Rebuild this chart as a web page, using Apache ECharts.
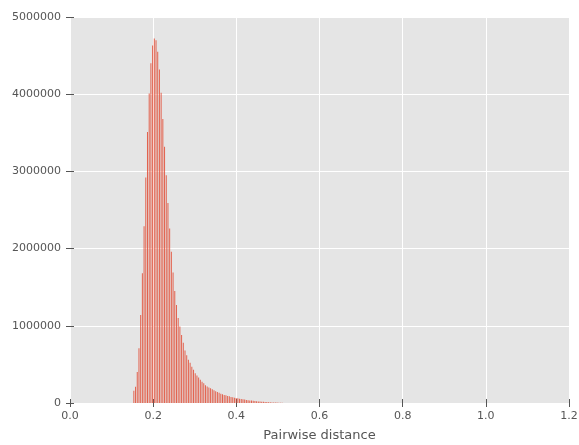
<!DOCTYPE html>
<html>
<head>
<meta charset="utf-8">
<script src="https://cdn.jsdelivr.net/npm/echarts@6/dist/echarts.min.js"></script>
<style>
  html, body { margin: 0; padding: 0; background: #fff; }
  #chart { width: 579px; height: 445px; }
</style>
</head>
<body>
<div id="chart"></div>
<script>
// Histogram of pairwise distances (uniform bins)
const binStart = 0.1515;   // left edge of first non-empty bin
const binWidth = 0.0041;

// Counts per bin, in order
const counts = [
  160000, 210000, 400000, 710000, 1140000, 1680000, 2290000, 2920000,
  3510000, 4010000, 4400000, 4630000, 4720000, 4700000, 4550000, 4320000,
  4020000, 3680000, 3320000, 2950000, 2590000, 2260000, 1960000, 1690000,
  1450000, 1270000, 1100000, 990000, 880000, 780000, 680000, 620000,
  560000, 520000, 470000, 430000, 385000, 355000, 330000, 300000,
  275000, 255000, 230000, 215000, 200000, 190000, 177000, 164000,
  151000, 142000, 133000, 120000, 112000, 103000, 99000, 90000,
  86000, 78000, 74000, 69000, 65000, 60000, 56000, 52000,
  48000, 44000, 40000, 37000, 34000, 31000, 28000, 26000,
  23000, 21000, 19000, 17000, 15000, 13000, 12000, 10000,
  9000, 8000, 7000, 6000, 5000, 4000, 3000, 2000
];

const xTicks = [0.0, 0.2, 0.4, 0.6, 0.8, 1.0, 1.2];
const yTicks = [0, 1000000, 2000000, 3000000, 4000000, 5000000];
const xLabel = 'Pairwise distance';

const barData = counts.map((c, i) => [binStart + binWidth * (i + 0.5), c]);

const font = 'DejaVu Sans';
const tickColor = '#555555';

const chart = echarts.init(document.getElementById('chart'), null, { renderer: 'canvas' });

const xBase = {
  type: 'value',
  min: xTicks[0],
  max: xTicks[xTicks.length - 1],
  interval: 0.2,
  axisLine: { show: false },
  axisTick: { show: true, inside: false, length: 4, lineStyle: { color: tickColor, width: 1 } }
};
const yBase = {
  type: 'value',
  min: yTicks[0],
  max: yTicks[yTicks.length - 1],
  interval: 1000000,
  axisLine: { show: false },
  axisTick: { show: true, inside: false, length: 4, lineStyle: { color: tickColor, width: 1 } }
};

chart.setOption({
  animation: false,
  backgroundColor: '#ffffff',
  grid: {
    left: 70, right: 10, top: 17, bottom: 42,
    outerBoundsMode: 'none',
    containLabel: false,
    show: true, backgroundColor: '#E5E5E5', borderWidth: 0
  },
  xAxis: [
    Object.assign({}, xBase, {
      position: 'bottom',
      name: xLabel,
      nameLocation: 'middle',
      nameGap: 26,
      nameTextStyle: { fontFamily: font, fontSize: 13, color: '#555555' },
      axisLabel: {
        margin: 8, fontFamily: font, fontSize: 11, color: '#555555',
        formatter: v => v.toFixed(1)
      },
      splitLine: { show: true, lineStyle: { color: '#ffffff', width: 1 } }
    }),
    Object.assign({}, xBase, {
      position: 'top',
      axisLabel: { show: false },
      splitLine: { show: false }
    })
  ],
  yAxis: [
    Object.assign({}, yBase, {
      position: 'left',
      axisLabel: {
        margin: 9, fontFamily: font, fontSize: 11, color: '#555555',
        formatter: v => String(v)
      },
      splitLine: { show: true, lineStyle: { color: '#ffffff', width: 1 } }
    }),
    Object.assign({}, yBase, {
      position: 'right',
      axisLabel: { show: false },
      splitLine: { show: false }
    })
  ],
  series: [{
    type: 'bar',
    xAxisIndex: 0,
    yAxisIndex: 0,
    data: barData,
    barWidth: 1,
    itemStyle: { color: '#E24A33', opacity: 0.85 },
    silent: true
  }]
});
</script>
</body>
</html>
